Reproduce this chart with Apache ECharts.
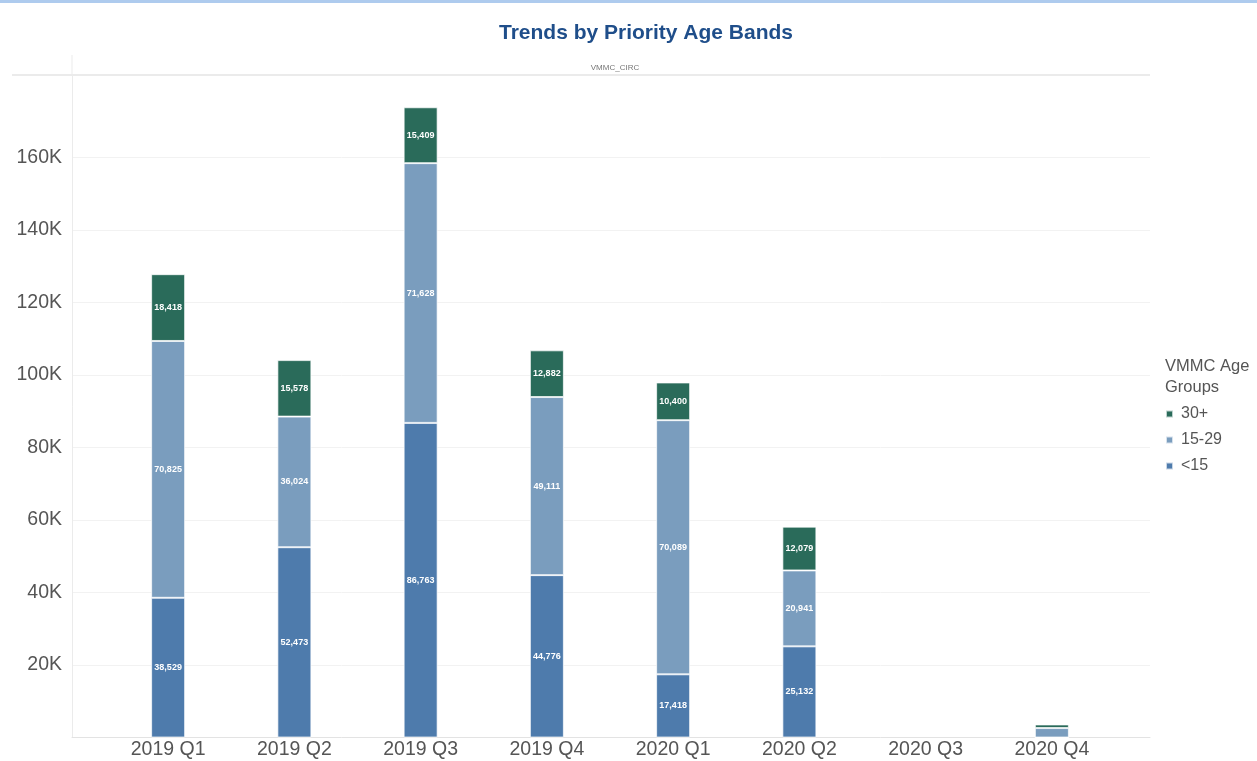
<!DOCTYPE html>
<html>
<head>
<meta charset="utf-8">
<script src="https://cdn.jsdelivr.net/npm/echarts@6/dist/echarts.min.js"></script>
<style>
  html, body { margin: 0; padding: 0; background: #ffffff; }
  #chart { width: 1257px; height: 761px; }
</style>
</head>
<body>
<div id="chart"></div>
<script>
// ---- Data ----
const categories = ['2019 Q1', '2019 Q2', '2019 Q3', '2019 Q4', '2020 Q1', '2020 Q2', '2020 Q3', '2020 Q4'];
const under15 = [38529, 52473, 86763, 44776, 17418, 25132, null, 0];
const age15to29 = [70825, 36024, 71628, 49111, 70089, 20941, null, 2600];
const age30plus = [18418, 15578, 15409, 12882, 10400, 12079, null, 1000];
const yTickValues = [20000, 40000, 60000, 80000, 100000, 120000, 140000, 160000];
const legendOrder = ['30+', '15-29', '<15'];

const colors = { '<15': '#4e7bac', '15-29': '#7a9dbe', '30+': '#2a6b5a' };
const yMax = 182700;
const font = '"Liberation Sans", Arial, sans-serif';

const chart = echarts.init(document.getElementById('chart'), null, { renderer: 'canvas' });

function fmt(v) {
  return v.toLocaleString('en-US');
}

function makeSeries(name, data) {
  return {
    name: name,
    type: 'bar',
    stack: 'total',
    xAxisIndex: 1,
    yAxisIndex: 1,
    data: data,
    barWidth: 34,
    itemStyle: { color: colors[name], borderColor: 'rgba(255,255,255,0.7)', borderWidth: 1 },
    label: {
      show: true,
      position: 'inside',
      color: '#ffffff',
      fontSize: 9,
      fontWeight: 'bold',
      fontFamily: font,
      formatter: p => (p.value != null && p.value > 5000) ? fmt(p.value) : ''
    },
    emphasis: { disabled: true }
  };
}

const option = {
  animation: false,
  backgroundColor: '#ffffff',
  title: [
    {
      text: 'Trends by Priority Age Bands',
      left: 641, top: 18, textAlign: 'center',
      textStyle: { color: '#1f4e8a', fontSize: 21, fontWeight: 'bold', fontFamily: font }
    },
    {
      text: 'VMMC_CIRC',
      left: 610, top: 59, textAlign: 'center',
      textStyle: { color: '#777777', fontSize: 8, fontWeight: 'normal', fontFamily: font }
    },
    {
      text: 'VMMC Age\nGroups',
      left: 1160, top: 351,
      textStyle: { color: '#555555', fontSize: 16.5, fontWeight: 'normal', fontFamily: font, lineHeight: 21 }
    }
  ],
  legend: {
    data: legendOrder,
    orient: 'vertical',
    left: 1160, top: 401,
    icon: 'rect',
    itemWidth: 7, itemHeight: 7,
    itemGap: 10,
    selectedMode: false,
    textStyle: { color: '#555555', fontSize: 16, fontFamily: font, padding: [0, 0, 0, 3] }
  },
  graphic: [
    { type: 'rect', shape: { x: 0, y: 0, width: 1257, height: 3 }, style: { fill: '#aecbee' }, silent: true },
    { type: 'line', shape: { x1: 12, y1: 75, x2: 1150, y2: 75 }, style: { stroke: '#ebebeb', lineWidth: 2 }, silent: true },
    { type: 'line', shape: { x1: 72, y1: 55, x2: 72, y2: 75 }, style: { stroke: '#ebebeb', lineWidth: 1 }, silent: true }
  ],
  grid: [
    { left: 72, right: 107, top: 75, bottom: 23.5 },
    { left: 105, right: 142, top: 75, bottom: 23.5 }
  ],
  xAxis: [
    {
      gridIndex: 0, type: 'value', min: 0, max: 1,
      axisLine: { show: true, lineStyle: { color: '#e3e3e3', width: 1 } },
      axisTick: { show: false }, axisLabel: { show: false }, splitLine: { show: false }
    },
    {
      gridIndex: 1, type: 'category', data: categories,
      axisLine: { show: false }, axisTick: { show: false },
      axisLabel: { color: '#555555', fontSize: 19.5, fontFamily: font, margin: 2 },
      splitLine: { show: false }
    }
  ],
  yAxis: [
    {
      gridIndex: 0, type: 'value', min: 0, max: yMax,
      axisLine: { show: true, lineStyle: { color: '#ebebeb', width: 1 } },
      axisTick: { show: false, customValues: yTickValues },
      axisLabel: {
        customValues: yTickValues,
        color: '#555555', fontSize: 19.5, fontFamily: font, margin: 10,
        formatter: v => (v / 1000) + 'K'
      },
      splitLine: { show: true, lineStyle: { color: '#f2f2f2', width: 1 } }
    },
    {
      gridIndex: 1, type: 'value', min: 0, max: yMax,
      show: false, splitLine: { show: false }
    }
  ],
  series: [
    makeSeries('<15', under15),
    makeSeries('15-29', age15to29),
    makeSeries('30+', age30plus)
  ]
};

chart.setOption(option);
</script>
</body>
</html>
